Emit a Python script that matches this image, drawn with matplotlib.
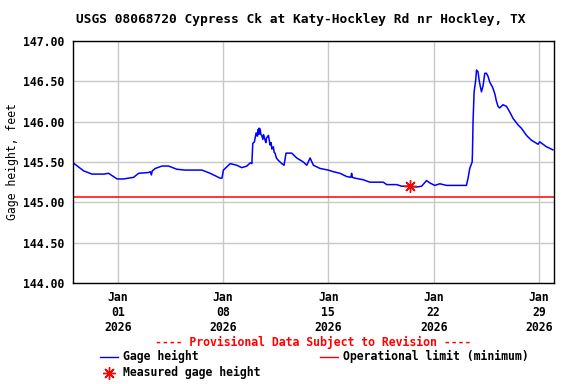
import pandas as pd
import matplotlib
matplotlib.use("Agg")
import matplotlib.pyplot as plt
import matplotlib.dates as mdates
from matplotlib.lines import Line2D

# gage height readings, time given as days after 2026-01-01 00:00
days_from_jan1 = [-2.96, -2.26, -1.70, -0.93, -0.60, -0.04, 0.40, 1.06, 1.39, 2.06,
                  2.17, 2.24, 2.30, 2.50, 2.95, 3.38, 3.94, 4.49, 5.60, 6.15,
                  6.81, 6.93, 7.03, 7.48, 7.92, 8.25, 8.59, 8.81, 8.92, 8.98,
                  9.09, 9.20, 9.28, 9.32, 9.36, 9.40, 9.44, 9.47, 9.52, 9.58,
                  9.65, 9.70, 9.80, 9.85, 9.90, 10.02, 10.13, 10.20, 10.25, 10.35,
                  10.40, 10.46, 10.55, 10.68, 10.91, 11.06, 11.19, 11.57, 11.90, 12.34,
                  12.57, 12.79, 13.01, 13.45, 14.00, 14.33, 14.78, 15.22, 15.50, 15.55,
                  15.60, 15.77, 16.32, 16.77, 17.65, 17.88, 18.54, 18.87, 19.42, 19.87,
                  20.20, 20.53, 20.75, 21.08, 21.41, 21.86, 22.63, 23.18, 23.29, 23.40,
                  23.56, 23.58, 23.62, 23.69, 23.80, 23.85, 23.95, 24.02, 24.11, 24.18,
                  24.29, 24.40, 24.51, 24.62, 24.73, 24.91, 25.06, 25.18, 25.28, 25.39,
                  25.61, 25.84, 26.06, 26.28, 26.61, 26.83, 27.17, 27.50, 27.94, 28.05,
                  28.27, 28.49, 28.83, 28.93]
gage_ft = [145.49, 145.39, 145.35, 145.35, 145.36, 145.29, 145.29, 145.31, 145.36, 145.37,
           145.38, 145.34, 145.39, 145.42, 145.45, 145.45, 145.41, 145.40, 145.40, 145.36,
           145.30, 145.30, 145.40, 145.48, 145.46, 145.43, 145.45, 145.49, 145.48, 145.73,
           145.75, 145.86, 145.82, 145.90, 145.84, 145.92, 145.85, 145.91, 145.84, 145.83,
           145.78, 145.84, 145.77, 145.74, 145.80, 145.83, 145.71, 145.74, 145.66, 145.69,
           145.62, 145.61, 145.55, 145.52, 145.48, 145.46, 145.61, 145.61, 145.55, 145.50,
           145.46, 145.55, 145.46, 145.42, 145.40, 145.38, 145.36, 145.32, 145.31, 145.36,
           145.31, 145.30, 145.28, 145.25, 145.25, 145.22, 145.22, 145.20, 145.20, 145.19,
           145.20, 145.27, 145.24, 145.21, 145.23, 145.21, 145.21, 145.21, 145.30, 145.42,
           145.50, 145.61, 146.00, 146.37, 146.52, 146.64, 146.62, 146.52, 146.43, 146.37,
           146.45, 146.60, 146.60, 146.56, 146.49, 146.43, 146.35, 146.25, 146.19, 146.17,
           146.21, 146.19, 146.12, 146.04, 145.96, 145.92, 145.83, 145.77, 145.72, 145.75,
           145.72, 145.69, 145.66, 145.65]

op_limit_ft = 145.07
measured_day = 19.42
measured_ft = 145.20

x_ticks = ["2026-01-01", "2026-01-08", "2026-01-15", "2026-01-22", "2026-01-29"]
y_ticks = [144.0, 144.5, 145.0, 145.5, 146.0, 146.5, 147.0]

base = pd.Timestamp("2026-01-01")
t = [base + pd.Timedelta(days=d) for d in days_from_jan1]
t_meas = base + pd.Timedelta(days=measured_day)

plt.rcParams['font.family'] = ['DejaVu Sans Mono']
plt.rcParams['font.weight'] = 'bold'
fs = 8.3

fig = plt.figure(figsize=(5.76, 3.84), dpi=100)
ax = fig.add_axes([0.1259, 0.263, 0.8359, 0.6302])

ax.plot(t, gage_ft, color='#0000ff', lw=1.1)
ax.axhline(op_limit_ft, color='#ff0000', lw=1.1)
ax.plot([t_meas], [measured_ft], marker=(8, 2, 0), color='#ff0000', ms=9, mew=1.0, ls='none')

ax.set_xlim(pd.Timestamp("2025-12-29"), pd.Timestamp("2026-01-30"))
ax.set_ylim(144.0, 147.0)
ax.set_yticks(y_ticks)
ax.yaxis.set_major_formatter(matplotlib.ticker.FormatStrFormatter('%.2f'))
ax.set_xticks(pd.to_datetime(x_ticks))
ax.xaxis.set_major_formatter(mdates.DateFormatter('%b\n%d\n%Y'))
ax.tick_params(length=0, labelsize=fs, pad=6)
ax.grid(True, color='#c8c8c8', lw=1.0)
ax.set_axisbelow(True)
for s in ax.spines.values():
    s.set_color('black')
    s.set_linewidth(1.0)
ax.set_ylabel('Gage height, feet', fontsize=fs, labelpad=3)

fig.text(0.5215, 0.948, 'USGS 08068720 Cypress Ck at Katy-Hockley Rd nr Hockley, TX',
         ha='center', va='center', fontsize=9.3)

# legend area drawn below the axes
fig.text(0.5434, 1 - 342.7 / 384, '---- Provisional Data Subject to Revision ----',
         ha='center', va='center', fontsize=fs, color='#ff0000')
y1 = 1 - 356.7 / 384
y2 = 1 - 372.7 / 384
fig.add_artist(Line2D([100 / 576, 118 / 576], [y1, y1], color='#0000ff', lw=1.0))
fig.text(123.3 / 576, y1, 'Gage height', ha='left', va='center', fontsize=fs)
fig.add_artist(Line2D([320 / 576, 338 / 576], [y1, y1], color='#ff0000', lw=1.0))
fig.text(343.3 / 576, y1, 'Operational limit (minimum)', ha='left', va='center', fontsize=fs)
fig.add_artist(Line2D([109.3 / 576], [y2], marker=(8, 2, 0), color='#ff0000', ms=9, mew=1.0, ls='none'))
fig.text(123.3 / 576, y2, 'Measured gage height', ha='left', va='center', fontsize=fs)

fig.savefig('out.png', dpi=100)
